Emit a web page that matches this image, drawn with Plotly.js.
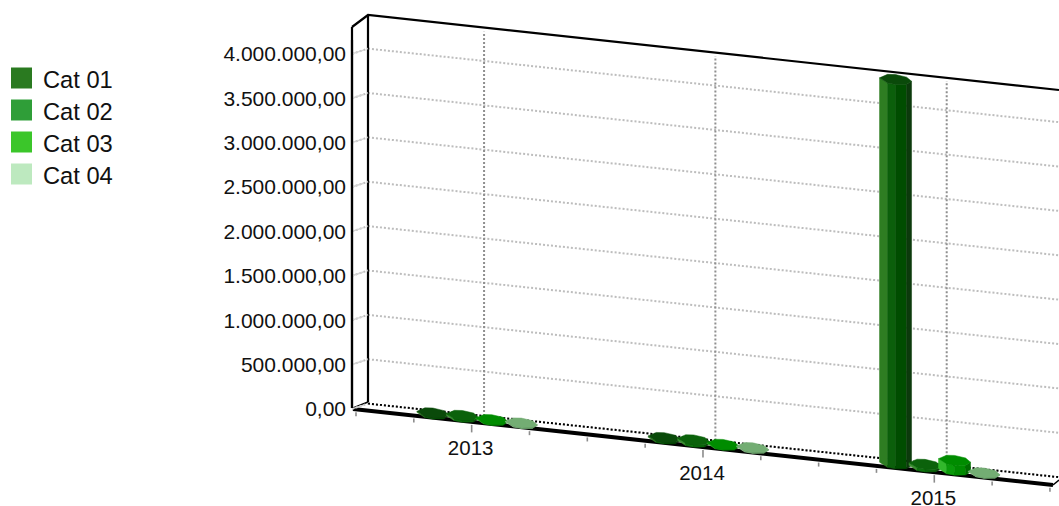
<!DOCTYPE html>
<html><head><meta charset="utf-8">
<script src="https://cdn.plot.ly/plotly-3.0.1.min.js"></script>
<style>html,body{margin:0;padding:0;background:#fff}#c{width:1059px;height:506px}</style>
</head><body><div id="c"></div>
<script>
const years = ['2013','2014','2015'];
const categories = ['Cat 01','Cat 02','Cat 03','Cat 04'];
const cat01 = [12000, 15000, 4330000];
const cat02 = [20000, 25000, 30000];
const cat03 = [8000, 10000, 110000];
const cat04 = [6000, 8000, 4000];
const seriesValues = [cat01, cat02, cat03, cat04];
const yTicks = [0,500000,1000000,1500000,2000000,2500000,3000000,3500000,4000000];
const slotTicks = [0,1,2,3,4,5,6,7,8,9,10,11,12];
const yearSlots = [2,6,10];
const barOffsets = [-0.80,-0.29,0.22,0.73];
const legendColors = ['#2a7a20','#2f9e38','#3bc62a','#bde9bf'];
const faceColors = [
  ['#2e7d22','#0b5f0b','#004d00','#0c3a0c','#0a4a0a'],
  ['#3a8f30','#0f700f','#0a640a','#0a4c0a','#0b620b'],
  ['#32b82c','#0a9a0a','#008a00','#006c00','#008c00'],
  ['#9acb9a','#80b580','#73ad73','#5f965f','#73ad73']
];

const W=1059,H=506,SX=57.83,K=88.75/1e6,X0=356,Y0=409;
const dataX=px=>(px-X0)/SX, dataY=py=>(Y0-py)/K;
// oblique projection: slot s, value v, depth d (0 front, 1 back), small pixel offsets
function proj(s,v,d,ox=0,oy=0){
  const px=X0+s*SX+15*d+ox;
  const slope=0.1086-0.0021*d;
  const py=Y0+slope*(px-353)-7*d+oy;
  return [dataX(px), dataY(py)+v];
}
function line(pts,color,width,dash){
  return {type:'scatter',mode:'lines',x:pts.map(p=>p&&p[0]),y:pts.map(p=>p&&p[1]),
    line:{color,width,dash:dash||'solid',simplify:false},hoverinfo:'skip',showlegend:false,connectgaps:false};
}
function P(px,py){return [dataX(px),dataY(py)];}
function seg(a,b,color,width,dash){
  return {type:'line',xref:'x',yref:'y',x0:a[0],y0:a[1],x1:b[0],y1:b[1],layer:'above',
    line:{color,width,dash:dash||'solid'}};
}
// straight edge kept on the topmost layer
function edge(a,b,color,width){
  return {xref:'x',yref:'y',axref:'x',ayref:'y',x:a[0],y:a[1],ax:b[0],ay:b[1],text:' ',
    showarrow:true,arrowhead:0,arrowwidth:width,arrowcolor:color,standoff:0,startstandoff:0};
}
const traces=[],shapes=[],annotations=[];

// side wall and back wall horizontal gridlines
const GRID='#bdbdbd';
yTicks.forEach(v=>{
  shapes.push(seg(proj(0,v,0,-4),proj(0,v,1,-3),GRID,2,'2px,2px'));
  annotations.push(edge(proj(0,v,0,-4),proj(0,v,1,-3),'#d4d4d4',1.5));
  traces.push(line([proj(0,v,1,-3),proj(12.25,v,1)],GRID,2,'2px,2px'));
});
// vertical gridlines
const vPts=[];
yearSlots.forEach(s=>{
  const f=proj(s,0,1,-2.6);
  vPts.push(f,[f[0],f[1]+4.33e6],null);
});
traces.push(line(vPts,'#8f8f8f',2,'2px,2px'));

// frame
shapes.push(seg(P(352,408),P(352,27),'#000',2.2));
annotations.push(edge(P(352,408),P(352,27),'#000',2.2));
traces.push(line([P(352,27),P(368,15),P(1059,90)],'#000',2.2));
traces.push(line([P(368,15),P(368,402)],'#000',2.2));
traces.push(line([P(353,408),P(368,402)],'#000',1.5));
traces.push(line([proj(0,0,1,-3),proj(12.25,0,1)],'#000',2,'2px,2px'));
traces.push(line([P(1053,485),P(1059,480)],'#000',1.5));

// ticks
const tPts=[];
slotTicks.forEach(s=>{
  const major=yearSlots.includes(s);
  tPts.push(proj(s,0,0,0,3),proj(s,0,0,0,major?10.5:7),null);
});
traces.push(line(tPts,'#8c8c8c',1.6));
// floor front edge
traces.push(line([P(353,409),P(1053,485)],'#000',4));

// bars: prism with a many-sided footprint
const frontAngles=[180,120,90,46,0];
const backAngles=[-46,-90,-120];
const RX=16,RY=5;
function rim(cs,v,a){
  const r=a*Math.PI/180;
  return proj(cs,v,0.5,RX*Math.cos(r),RY*Math.sin(r));
}
seriesValues.forEach((vals,c)=>{
  const faces=[[],[],[],[]],top=[];
  vals.forEach((v,i)=>{
    const cs=yearSlots[i]+barOffsets[c];
    for(let f=0;f<4;f++){
      faces[f].push(rim(cs,0,frontAngles[f]),rim(cs,0,frontAngles[f+1]),
                    rim(cs,v,frontAngles[f+1]),rim(cs,v,frontAngles[f]),rim(cs,0,frontAngles[f]),null);
    }
    frontAngles.concat(backAngles).forEach(a=>top.push(rim(cs,v,a)));
    top.push(rim(cs,v,frontAngles[0]),null);
  });
  faces.forEach((pts,f)=>{
    const t=line(pts,faceColors[c][f],0.5);
    t.fill='toself';t.fillcolor=faceColors[c][f];t.name=categories[c];
    traces.push(t);
  });
  const t=line(top,faceColors[c][4],0.5);
  t.fill='toself';t.fillcolor=faceColors[c][4];t.name=categories[c];
  traces.push(t);
});

// year labels
traces.push({type:'scatter',mode:'text',
  x:yearSlots.map(s=>proj(s,0,0,-1)[0]),
  y:yearSlots.map(s=>proj(s,0,0,-1,28)[1]),
  text:years,textposition:'middle center',
  textfont:{family:'Liberation Sans, Arial, sans-serif',size:20.5,color:'#111'},hoverinfo:'skip',showlegend:false});

// legend
const legY=[78,110,142,174];
traces.push({type:'scatter',mode:'markers',
  x:legY.map(()=>dataX(21.5)),y:legY.map(dataY),
  marker:{symbol:'square',size:21,color:legendColors,line:{width:0}},hoverinfo:'skip',showlegend:false});
traces.push({type:'scatter',mode:'text',
  x:legY.map(()=>dataX(43)),y:legY.map(py=>dataY(py+4)),text:categories,textposition:'middle right',
  textfont:{family:'Liberation Sans, Arial, sans-serif',size:23.7,color:'#111'},hoverinfo:'skip',showlegend:false});

const layout={
  width:W,height:H,margin:{l:0,r:0,t:0,b:0},paper_bgcolor:'#fff',plot_bgcolor:'#fff',
  showlegend:false,separators:',.',shapes,annotations,
  font:{family:'Liberation Sans, Arial, sans-serif',size:21,color:'#111'},
  xaxis:{range:[dataX(0),dataX(W)],visible:false,fixedrange:true},
  yaxis:{range:[dataY(H),dataY(0)],anchor:'free',position:346/W,side:'left',
    tickmode:'array',tickvals:yTicks,tickformat:',.2f',ticks:'',showgrid:false,zeroline:false,
    showline:false,fixedrange:true,automargin:false,
    tickfont:{family:'Liberation Sans, Arial, sans-serif',size:21,color:'#111'}}
};
Plotly.newPlot('c',traces,layout,{displayModeBar:false,staticPlot:true});
</script>
</body></html>
